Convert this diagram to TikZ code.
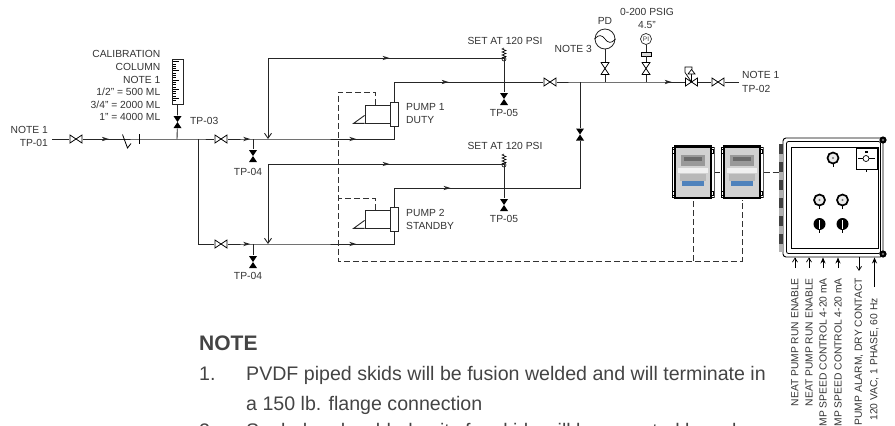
\documentclass[tikz,border=0pt]{standalone}
\usepackage{fontspec}
\setmainfont{Liberation Sans}
\usetikzlibrary{arrows.meta}
\definecolor{inkgray}{HTML}{333333}
\definecolor{notegray}{HTML}{444444}
\definecolor{screenblue}{HTML}{4F82BC}
\tikzset{
    pipe/.style={line width=.9pt, black!85},
    ctlline/.style={line width=.75pt, black!80, dash pattern=on 6pt off 3pt},
    lbl/.style={font=\fontsize{10.3}{12}\selectfont, text=inkgray, inner sep=0pt},
    notetxt/.style={font=\fontsize{19.6}{23}\selectfont, text=notegray, inner sep=0pt, anchor=base west},
    hvalve/.style={inner sep=0pt, minimum width=13pt, minimum height=9pt, path picture={
        \draw[line width=.8pt, fill=white] (-6,-4) -- (6,4) -- (6,-4) -- (-6,4) -- cycle;}},
    vvalve/.style={inner sep=0pt, minimum width=9pt, minimum height=13pt, path picture={
        \draw[line width=.8pt, fill=white] (-4,-6) -- (4,6) -- (-4,6) -- (4,-6) -- cycle;}},
    fvalve/.style={inner sep=0pt, minimum width=9pt, minimum height=13pt, path picture={
        \fill (-4,-6) -- (4,6) -- (-4,6) -- (4,-6) -- cycle;}},
    flowmark/.style={inner sep=0pt, minimum width=8pt, minimum height=6pt, path picture={
        \fill[xscale=#1] (-3.5,-2.2) -- (3.5,0) -- (-3.5,2.2) -- (-1.5,0) -- cycle;}},
    flowmark/.default=1,
    relief/.style={inner sep=0pt, minimum width=10pt, minimum height=15pt, path picture={
        \draw[line width=.6pt] (0,-7) -- (-2,-6) -- (2,-4.5) -- (-2,-3) -- (2,-1.5) -- (-2,0) -- (2,1.5) -- (-2,3) -- (0,3.5);
        \draw[line width=.6pt] (0,4) circle (2);}},
    pumpbody/.style={draw=black!85, line width=.8pt, fill=white, minimum width=8.5pt, minimum height=24pt, inner sep=0pt},
    motor/.style={draw=black!85, line width=.8pt, minimum width=25pt, minimum height=18pt, inner sep=0pt},
    vfd/.style={inner sep=0pt, minimum width=43pt, minimum height=55pt, path picture={
        \fill[white] (-22,-28) rectangle (22,28);
        \fill[black!18] (-17,-25) rectangle (17,25);
        \fill[black!40] (-12,-17) rectangle (12,-6);
        \fill[black!58] (-9,-15) rectangle (9,-11);
        \fill[black!6] (-15,-4) rectangle (15,1);
        \fill[black!28] (-13,2) rectangle (13,9);
        \fill[screenblue] (-11,9) rectangle (11,14);
        \draw[line width=1.1pt] (-18,-26) rectangle (18,26);
        \draw[line width=.7pt] (-21,-25) rectangle (21,25);
        \foreach \cx in {-19.5,19.5} \foreach \cy in {-21,21} \fill[white, draw=black, line width=.4pt] (\cx-1,\cy-2) rectangle (\cx+1,\cy+2);}},
    lamp/.style={circle, draw=black, line width=1.7pt, fill=black!8, minimum size=11pt, inner sep=0pt, path picture={\fill[black!55] (0,0) circle (1.2);}},
    selector/.style={circle, fill=black, minimum size=12pt, inner sep=0pt, path picture={\fill[white] (-.8,-4.5) rectangle (.8,4.5);}},
    sig/.style={lbl, rotate=90, anchor=east},
    sigin/.style={line width=.7pt, -{Straight Barb[length=4pt, width=5pt]}},
    sigfill/.style={line width=.7pt, -{Stealth[length=6pt, width=5pt]}},
}
\begin{document}
\begin{tikzpicture}[x=1pt, y=-1pt]
    \useasboundingbox (0,0) rectangle (895,426);
    \clip (0,0) rectangle (895,426);

    \coordinate (inlet) at (52,139);
    \coordinate (calT) at (177,139);
    \coordinate (branchT) at (198,139);
    \coordinate (branchB) at (198,244);
    \coordinate (drainA) at (253,139);
    \coordinate (drainB) at (253,244);
    \coordinate (retA) at (268,139);
    \coordinate (retB) at (268,244);
    \coordinate (retAtop) at (268,58);
    \coordinate (retBtop) at (268,164);
    \coordinate (suctA) at (394.5,139);
    \coordinate (suctB) at (394.5,244);
    \coordinate (dischA) at (394.5,82);
    \coordinate (dischB) at (394.5,188);
    \coordinate (crossT) at (580,82);
    \coordinate (crossB) at (580,188);
    \coordinate (pdT) at (605,82);
    \coordinate (piT) at (646,82);
    \coordinate (outlet) at (739,82);
    \coordinate (relA) at (504,58);
    \coordinate (relB) at (504,164);

    \node[hvalve] (vIn) at (76,139) {};
    \node[fvalve] (vCal) at (177.5,122) {};
    \node[hvalve] (vA) at (221,139) {};
    \node[hvalve] (vB) at (221,244) {};
    \node[fvalve] (vDrainA) at (253,156) {};
    \node[fvalve] (vDrainB) at (253,262) {};
    \node[fvalve] (vTpA) at (504,99) {};
    \node[fvalve] (vTpB) at (504,205) {};
    \node[fvalve] (vCross) at (580,134.5) {};
    \node[hvalve] (vDisch) at (550,82) {};
    \node[vvalve] (vPd) at (605,68.5) {};
    \node[vvalve] (vPi) at (646,68.5) {};
    \node[hvalve] (vBack) at (691.5,82) {};
    \node[hvalve] (vOut) at (718,82) {};
    \node[relief] (reliefA) at (504,55) {};
    \node[relief] (reliefB) at (504,161) {};

    \node[draw=black!85, line width=.8pt, minimum width=11pt, minimum height=45pt, inner sep=0pt] (calcol) at (177.5,81.5) {};
    \foreach \i in {0,...,17}
        \draw[line width=.5pt] (173,61.5+2.3*\i) -- ++(3,0);
    \foreach \i in {0,4,8,12,16}
        \draw[line width=.6pt] (173,61.5+2.3*\i) -- ++(6,0);

    \node[pumpbody] (pumpA) at (394.5,114) {};
    \node[pumpbody] (pumpB) at (394.5,219) {};
    \node[motor] (motorA) at (377.5,114) {};
    \node[motor] (motorB) at (377.5,219) {};
    \foreach \m in {motorA,motorB}
        \draw[pipe] (\m.south west) -- ++(-11,0) -- ++(11,-8);

    \node[circle, draw=black!85, line width=.8pt, minimum size=20pt, inner sep=0pt] (pd) at (605,39) {};
    \draw[line width=.7pt] (pd.west) .. controls +(4,-5) and +(-3,-4) .. (pd.center) .. controls +(3,4) and +(-4,5) .. (pd.east);
    \node[circle, draw=black!85, line width=.7pt, minimum size=11pt, inner sep=0pt, font=\fontsize{6.5}{7}\selectfont, text=inkgray] (pi) at (646,39) {PI};
    \node[draw=black, line width=.7pt, fill=black!15, minimum width=10pt, minimum height=4pt, inner sep=0pt] (seal) at (646,54) {};

    \draw[pipe] (inlet) -- (vIn) -- node[flowmark, pos=.24] (flowIn) {} (calT) -- (branchT) -- (vA) -- node[flowmark, pos=.75] (flowA) {} (drainA) -- (retA) -- node[flowmark, pos=.67] (flowC) {} (suctA) -- (pumpA);
    \draw[pipe] (branchT) -- (branchB) -- (vB) -- node[flowmark, pos=.75] (flowB) {} (drainB) -- (retB) -- node[flowmark, pos=.67] (flowD) {} (suctB) -- (pumpB);
    \draw[pipe] (calT) -- (vCal) -- (calcol);
    \draw[pipe] (drainA) -- (vDrainA);
    \draw[pipe] (drainB) -- (vDrainB);
    \draw[pipe] (pumpA) -- (dischA) -- node[flowmark, pos=.34] (flowE) {} (vDisch) -- (crossT) -- (pdT) -- (piT) -- node[flowmark, pos=.57] (flowF) {} (vBack) -- (vOut) -- (outlet);
    \draw[pipe] (pumpB) -- (dischB) -- node[flowmark, pos=.283] (flowG) {} (crossB) -- (vCross) -- (crossT);
    \draw[pipe] (pdT) -- (vPd) -- (pd);
    \draw[pipe] (piT) -- (vPi) -- (seal) -- (pi);
    \draw[pipe] (relA) -- node[flowmark=-1, pos=.5] (flowH) {} (retAtop);
    \draw[pipe] (relB) -- node[flowmark=-1, pos=.5] (flowI) {} (retBtop);
    \draw[pipe, -{Straight Barb[length=5pt, width=7pt]}] (retAtop) -- (retA);
    \draw[pipe, -{Straight Barb[length=5pt, width=7pt]}] (retBtop) -- (retB);
    \draw[pipe] (relA) -- (vTpA);
    \draw[pipe] (relB) -- (vTpB);

    \draw[line width=.8pt] (122.5,134.5) -- (127.5,148) -- (131,143.5);
    \draw[line width=.8pt] (139,134) -- (139,144);

    \draw[line width=.7pt] (691.5,82) -- (691.5,74);
    \draw[line width=.7pt, fill=white] (691.5,69.5) -- (695,74) -- (688,74) -- cycle;
    \draw[line width=.7pt] (691.5,82) -- (685,72.5) -- (685,67) -- (692,67) -- (692,69.5);

    \node[vfd] (vfdA) at (693,172) {};
    \node[vfd] (vfdB) at (742,172) {};
    \coordinate (ctlL) at (338,261);
    \coordinate (ctlM) at (693,261);
    \coordinate (ctlR) at (742,261);
    \coordinate (ctlA) at (338,92);
    \coordinate (ctlB) at (338,198);
    \draw[ctlline] (motorA.north -| 375.5,0) -- (375.5,92) -- (ctlA) -- (ctlL) -- (ctlR) -- (vfdB);
    \draw[ctlline] (motorB.north -| 375.5,0) -- (375.5,198) -- (ctlB);
    \draw[ctlline] (ctlM) -- (vfdA);
    \draw[pipe] (vfdA) -- (vfdB);

    \node[draw, line width=.9pt, rounded corners=3pt, minimum width=100pt, minimum height=119pt, inner sep=0pt] (ctrl) at (833,197.5) {};
    \node[draw, line width=.8pt, rounded corners=2pt, minimum width=94pt, minimum height=112pt, inner sep=0pt] (ctrlMid) at (833.5,197.5) {};
    \node[draw, line width=.9pt, minimum width=87pt, minimum height=101pt, inner sep=0pt] (ctrlIn) at (834.5,197.5) {};
    \draw[ctlline] (vfdB) -- (ctrl.west |- vfdB);
    \foreach \i in {0,...,5}
        \fill[black!75] (779,144+18*\i) rectangle ++(4,10);
    \foreach \i in {0,...,5}
        \fill[black!30] (779,154+18*\i) rectangle ++(4,8);
    \foreach \sy in {140,254} {
        \fill[black] (883,\sy) circle (3.6);
        \fill[black!55] (883,\sy) circle (1.3);
    }
    \node[draw, line width=.9pt, minimum width=21pt, minimum height=21pt, inner sep=0pt] (disc) at (866.5,158.5) {};
    \draw[line width=1.3pt] (858,158.5) -- (875,158.5);
    \draw[line width=.7pt, fill=white] (866,158.5) circle (3);
    \fill (865,151) rectangle ++(2.5,2);
    \draw[line width=.6pt] (disc.south) -- ++(0,3);
    \foreach \n/\lx/\ly in {lampA/833/158, lampB/819.5/200, lampC/842.5/200} {
        \node[lamp] (\n) at (\lx,\ly) {};
        \draw[line width=.6pt] (\n.south) -- ++(0,2.5);
    }
    \foreach \n/\lx in {selA/819.5, selB/842.5} {
        \node[selector] (\n) at (\lx,224) {};
        \draw[line width=.6pt] (\n.south) -- ++(0,2.5);
    }

    \node[lbl, anchor=east] (noteIn) at (48,130) {NOTE 1};
    \node[lbl, anchor=east] (tpOne) at (48,143) {TP-01};
    \node[lbl, anchor=west] (tpThree) at (190,121) {TP-03};
    \node[lbl, anchor=east] (calA) at (160.5,54) {CALIBRATION};
    \node[lbl, anchor=east] (calB) at (160.5,67) {COLUMN};
    \node[lbl, anchor=east] (calC) at (160.5,80) {NOTE 1};
    \node[lbl, anchor=east] (calD) at (160.5,92) {1/2" = 500 ML};
    \node[lbl, anchor=east] (calE) at (160.5,104.5) {3/4" = 2000 ML};
    \node[lbl, anchor=east] (calF) at (160.5,117) {1" = 4000 ML};
    \node[lbl] (tpFourA) at (248,172) {TP-04};
    \node[lbl] (tpFourB) at (248,276) {TP-04};
    \node[lbl] (tpFiveA) at (504,113) {TP-05};
    \node[lbl] (tpFiveB) at (504,219) {TP-05};
    \node[lbl] (setA) at (505,41) {SET AT 120 PSI};
    \node[lbl] (setB) at (505,146) {SET AT 120 PSI};
    \node[lbl, anchor=west] (pumpOne) at (406,107) {PUMP 1};
    \node[lbl, anchor=west] (dutyTxt) at (406,120) {DUTY};
    \node[lbl, anchor=west] (pumpTwo) at (406,213) {PUMP 2};
    \node[lbl, anchor=west] (standbyTxt) at (406,226) {STANDBY};
    \node[lbl] (pdTxt) at (605,21) {PD};
    \node[lbl] (rangeTxt) at (647,12) {0-200 PSIG};
    \node[lbl] (sizeTxt) at (647,25) {4.5"};
    \node[lbl, anchor=east] (noteThree) at (592,49) {NOTE 3};
    \node[lbl, anchor=west] (noteOut) at (742,75) {NOTE 1};
    \node[lbl, anchor=west] (tpTwo) at (742,89) {TP-02};

    \node[sig] (sigA) at (795,278) {NEAT PUMP RUN ENABLE};
    \node[sig] (sigB) at (809,278) {NEAT PUMP RUN ENABLE};
    \node[sig] (sigC) at (823,278) {MP SPEED CONTROL 4-20 mA};
    \node[sig] (sigD) at (838,278) {MP SPEED CONTROL 4-20 mA};
    \node[sig] (sigE) at (859,278) {PUMP ALARM, DRY CONTACT};
    \node[sig] (sigF) at (874.5,298) {120 VAC, 1 PHASE, 60 Hz};
    \draw[sigin, shorten <=10pt] (sigA.east) -- (sigA.east |- ctrl.south);
    \draw[sigin, shorten <=10pt] (sigB.east) -- (sigB.east |- ctrl.south);
    \draw[sigfill, shorten <=10pt] (sigC.east) -- (sigC.east |- ctrl.south);
    \draw[sigfill, shorten <=10pt] (sigD.east) -- (sigD.east |- ctrl.south);
    \draw[sigin, shorten >=7pt] (sigE.east |- ctrl.south) -- (sigE.east);
    \draw[sigfill, shorten <=11pt] (sigF.east) -- (sigF.east |- ctrl.south);

    \node[notetxt, font=\fontsize{21}{24}\bfseries\selectfont] (noteHead) at (199,350.5) {NOTE};
    \node[notetxt] (oneNum) at (199,380) {1.};
    \node[notetxt] (oneA) at (246,380) {PVDF piped skids will be fusion welded and will terminate in};
    \node[notetxt] (oneB) at (246,410) {a 150 lb. flange connection};
    \node[notetxt] (twoNum) at (199,437.5) {2.};
    \node[notetxt] (twoA) at (246,437.5) {Sealed and welded units for skids will be mounted by valves};
\end{tikzpicture}
\end{document}
